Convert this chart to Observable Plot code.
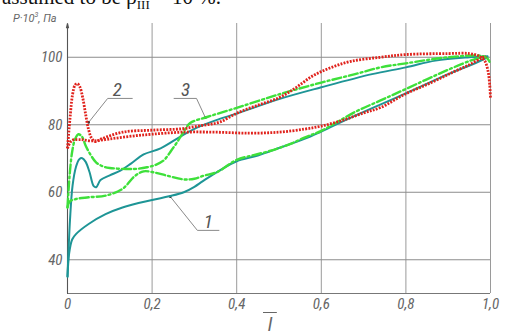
<!DOCTYPE html>
<html>
<head>
<meta charset="utf-8">
<script src="https://cdn.jsdelivr.net/npm/d3@7"></script>
<script src="https://cdn.jsdelivr.net/npm/@observablehq/plot@0.6"></script>
<style>
  html, body { margin: 0; padding: 0; background: #fff; }
  #wrap { position: relative; width: 505px; height: 336px; overflow: hidden; }
  #chart { position: absolute; left: 0; top: 0; }
  #chart svg text { font-family: "Liberation Sans Narrow", "Roboto Condensed", Roboto, sans-serif; font-style: italic; }
  .topline { position: absolute; left: 2px; top: -15px; font-family: "Liberation Serif", "DejaVu Serif", serif; font-size: 21px; line-height: 24px; color: #111; white-space: nowrap; }
  .topline sub { font-size: 13px; }
  .ylab { position: absolute; left: 13px; top: 11px; font-family: "Liberation Sans Narrow", Roboto, sans-serif; font-style: italic; font-size: 11px; color: #666; white-space: nowrap; }
  .ylab sup { font-size: 7px; }
  .xlab { position: absolute; left: 263px; top: 314px; font-family: "Liberation Sans Narrow", Roboto, sans-serif; font-style: italic; font-size: 19px; line-height: 22px; color: #666; text-decoration: overline; }
</style>
</head>
<body>
<div id="wrap">
  <div class="topline">assumed to be ρ<sub>III</sub> = 10 %.</div>
  <div id="chart"></div>
  <div class="ylab">P·10<sup>3</sup>, Па</div>
  <div class="xlab">&nbsp;l&nbsp;</div>
</div>
<script>
// ---- data (relative length l̄ vs pressure P·10^3, Pa) ----
const xTicks = [0, 0.2, 0.4, 0.6, 0.8, 1.0];
const xTickLabels = ["0", "0,2", "0,4", "0,6", "0,8", "1,0"];
const yTicks = [40, 60, 80, 100];
const yTickLabels = ["40", "60", "80", "100"];

// curve 1 (teal, solid)
const c1LowX = [0, 0.004, 0.011, 0.02, 0.05, 0.09, 0.13, 0.2, 0.24, 0.275, 0.3, 0.32, 0.36, 0.4, 0.45, 0.5, 0.56, 0.6, 0.68, 0.8, 0.9, 0.97, 0.993];
const c1LowY = [35, 42, 46, 47.6, 50.6, 53.5, 55.5, 57.7, 58.8, 60, 61.6, 63.3, 66.5, 69.2, 70.9, 73.1, 75.8, 78, 82.7, 89.3, 95, 98.6, 100];
const c1UpX = [0, 0.006, 0.012, 0.02, 0.028, 0.035, 0.043, 0.052, 0.062, 0.068, 0.078, 0.1, 0.125, 0.15, 0.18, 0.22, 0.267, 0.3, 0.35, 0.4, 0.5, 0.6, 0.72, 0.8, 0.87, 0.95, 0.993];
const c1UpY = [35, 52, 62, 67.5, 69.8, 70.1, 69, 66, 61.8, 61.5, 63.6, 65, 66.4, 68.5, 71.2, 73, 76.5, 78.8, 81.3, 83.3, 87.6, 91.1, 95, 97, 99, 100, 100.3];

// curve 2 (red, dotted)
const c2LowX = [0, 0.01, 0.03, 0.06, 0.1, 0.15, 0.2, 0.27, 0.35, 0.43, 0.5, 0.56, 0.6, 0.65, 0.7, 0.74, 0.8, 0.86, 0.91, 0.95, 0.98, 0.99];
const c2LowY = [73, 75.3, 75.6, 75.2, 75.8, 76.6, 77.2, 77.8, 77.8, 77.5, 77.8, 78.7, 79.6, 81.3, 83.5, 85.1, 89.2, 92.5, 95.5, 97.8, 99.8, 100.2];
const c2UpX = [0, 0.006, 0.012, 0.018, 0.023, 0.029, 0.036, 0.043, 0.05, 0.057, 0.066, 0.08, 0.13, 0.2, 0.27, 0.3, 0.33, 0.36, 0.4, 0.45, 0.5, 0.54, 0.58, 0.62, 0.67, 0.74, 0.8, 0.9, 0.95, 0.972, 0.986, 0.994, 0.998, 1.0];
const c2UpY = [73, 82, 89, 91.8, 92.2, 91.3, 88, 83, 78.5, 76, 75, 75.8, 77.8, 78.4, 78.8, 79.4, 80, 80.8, 83.4, 85.8, 88, 91, 94.5, 96.8, 98.8, 100, 100.8, 101.1, 101.1, 100.4, 99, 96, 92, 88];

// curve 3 (green, dash-dot)
const c3LowX = [0, 0.005, 0.02, 0.05, 0.09, 0.13, 0.16, 0.18, 0.2, 0.236, 0.275, 0.3, 0.322, 0.354, 0.4, 0.44, 0.48, 0.53, 0.56, 0.6, 0.68, 0.74, 0.8, 0.9, 0.96, 0.99];
const c3LowY = [55.5, 57.2, 58, 58.5, 59, 61, 64.9, 66.2, 66, 64.9, 63.8, 64, 64.9, 66, 69.6, 71, 72.3, 74.5, 76.2, 78.2, 83.8, 87.2, 90.6, 96.3, 99.3, 100.3];
const c3UpX = [0, 0.005, 0.011, 0.018, 0.026, 0.034, 0.043, 0.055, 0.068, 0.085, 0.1, 0.157, 0.188, 0.21, 0.228, 0.245, 0.26, 0.275, 0.29, 0.33, 0.4, 0.5, 0.6, 0.68, 0.74, 0.8, 0.9, 0.98, 0.993, 1.0];
const c3UpY = [55.5, 65, 72, 75.8, 77.2, 76.5, 73.8, 71, 68.8, 67.6, 67.2, 66.9, 67.4, 68.2, 69.5, 72.3, 75, 78, 80.5, 82.3, 85, 89, 92.5, 95, 97, 98.2, 100, 100.4, 99.6, 98];

// curve labels and leader lines (data units)
const labelText = ["1", "2", "3"];
const labelX = [0.333, 0.118, 0.279];
const labelY = [51.2, 90.2, 90.2];
const shelfX1 = [0.307, 0.095, 0.251];
const shelfX2 = [0.359, 0.154, 0.305];
const shelfY = [48.7, 87.8, 87.8];
const leaderX1 = [0.307, 0.095, 0.305];
const leaderX2 = [0.243, 0.05, 0.326];
const leaderY2 = [58.7, 80.7, 82.1];

// ---- build tables ----
const pts = (xs, ys) => xs.map((x, i) => ({x, y: ys[i]}));
const c1Low = pts(c1LowX, c1LowY), c1Up = pts(c1UpX, c1UpY);
const c2Low = pts(c2LowX, c2LowY), c2Up = pts(c2UpX, c2UpY);
const c3Low = pts(c3LowX, c3LowY), c3Up = pts(c3UpX, c3UpY);
const labels = labelText.map((t, i) => ({t, x: labelX[i], y: labelY[i], sx1: shelfX1[i], sx2: shelfX2[i], sy: shelfY[i], lx1: leaderX1[i], lx2: leaderX2[i], ly2: leaderY2[i]}));

const tickFont = {fontStyle: "italic", fontSize: 15, fill: "#666"};

const teal = {x: "x", y: "y", stroke: "#1e9596", strokeWidth: 2, curve: "catmull-rom"};
const green = {x: "x", y: "y", stroke: "#3ee03a", strokeWidth: 2.4, strokeDasharray: "9 3 2 3", curve: "catmull-rom"};
const red = {x: "x", y: "y", stroke: "#e0221c", strokeWidth: 2.8, strokeDasharray: "1.9 1.3", strokeLinecap: "butt", curve: "catmull-rom"};

const chart = Plot.plot({
  width: 505,
  height: 336,
  marginLeft: 67,
  marginRight: 15,
  marginTop: 23,
  marginBottom: 43,
  x: {domain: [0, 1]},
  y: {domain: [30, 110]},
  style: {background: "transparent", overflow: "visible"},
  marks: [
    Plot.ruleX(xTicks.slice(1), {y1: 30, y2: 110, stroke: "#9a9a9a", strokeWidth: 1}),
    Plot.ruleY(yTicks, {x1: 0, x2: 1, stroke: "#8c8c8c", strokeWidth: 1}),
    Plot.ruleY([30], {x1: 0, x2: 1, stroke: "#777", strokeWidth: 1}),
    Plot.arrow([0], {x1: 0, x2: 0, y1: 30, y2: 110, stroke: "#555", strokeWidth: 1.1, headLength: 6, headAngle: 28}),
    Plot.axisX(xTicks, {tickSize: 0, tickPadding: 5, tickFormat: (d, i) => xTickLabels[i], label: null, ...tickFont}),
    Plot.axisY(yTicks, {tickSize: 0, tickPadding: 5, tickFormat: (d, i) => yTickLabels[i], label: null, ...tickFont}),
    Plot.link(labels, {x1: "sx1", x2: "sx2", y1: "sy", y2: "sy", stroke: "#8a8a8a", strokeWidth: 1}),
    Plot.link(labels, {x1: "lx1", x2: "lx2", y1: "sy", y2: "ly2", stroke: "#8a8a8a", strokeWidth: 1}),
    Plot.dot(labels, {x: "lx2", y: "ly2", r: 1.3, fill: "#333"}),
    Plot.text(labels, {x: "x", y: "y", text: "t", fontSize: 19, fontStyle: "italic", fill: "#555"}),
    Plot.line(c1Low, teal),
    Plot.line(c1Up, teal),
    Plot.line(c3Low, green),
    Plot.line(c3Up, green),
    Plot.line(c2Low, red),
    Plot.line(c2Up, red)
  ]
});
document.getElementById("chart").appendChild(chart);
</script>
</body>
</html>
